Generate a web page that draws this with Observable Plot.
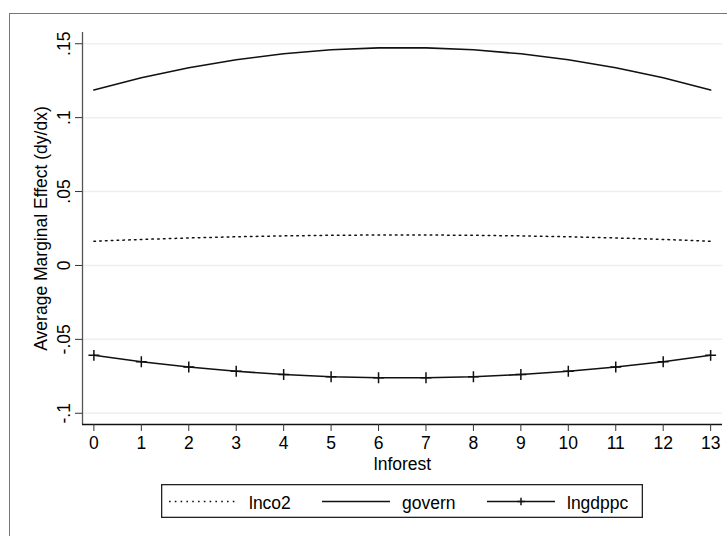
<!DOCTYPE html>
<html><head><meta charset="utf-8">
<script src="https://cdn.jsdelivr.net/npm/d3@7"></script>
<script src="https://cdn.jsdelivr.net/npm/@observablehq/plot@0.6"></script>
<style>
body{margin:0;background:#fff;font-family:"Liberation Sans",Arial,Helvetica,sans-serif;}
#wrap{position:relative;width:727px;height:536px;overflow:hidden;background:#fff;}
#frame{position:absolute;left:9px;top:13px;width:760px;height:560px;border:1.3px solid #777;box-sizing:border-box;}
#chart{position:absolute;left:0;top:0;}
#legend{position:absolute;left:161px;top:484px;}
</style></head><body>
<div id="wrap"><div id="frame"></div><div id="chart"></div><div id="legend"></div></div>
<script>
// Data
const lnforest = [0,1,2,3,4,5,6,7,8,9,10,11,12,13];
const lnco2   = [0.0164,0.0176,0.0186,0.0194,0.0200,0.0204,0.0206,0.0206,0.0204,0.0200,0.0194,0.0186,0.0176,0.0164];
const govern  = [0.1187,0.1270,0.1338,0.1392,0.1432,0.1459,0.1472,0.1472,0.1459,0.1432,0.1392,0.1338,0.1270,0.1187];
const lngdppc = [-0.0608,-0.0651,-0.0687,-0.0716,-0.0738,-0.0753,-0.0760,-0.0760,-0.0753,-0.0738,-0.0716,-0.0687,-0.0651,-0.0608];
const yTicks = [-0.1,-0.05,0,0.05,0.1,0.15];
const yTickLabels = ["-.1","-.05","0",".05",".1",".15"];
const xTicks = lnforest;
const seriesNames = ["lnco2","govern","lngdppc"];
const xDomain = [-0.24, 13.25];
const yDomain = [-0.1076, 0.1576];
const xTitle = "lnforest";
const yTitle = "Average Marginal Effect (dy/dx)";

const rows = lnforest.map((x,i)=>({x, lnco2: lnco2[i], govern: govern[i], lngdppc: lngdppc[i]}));
const FONT = '"Liberation Sans",Arial,Helvetica,sans-serif';

const plot = Plot.plot({
  width: 727, height: 536,
  marginLeft: 82, marginRight: 5, marginTop: 32, marginBottom: 112,
  style: {fontFamily: FONT, fontSize: "17.5px", background: "transparent", color: "#000", overflow: "visible"},
  x: {domain: xDomain},
  y: {domain: yDomain},
  marks: [
    Plot.ruleY(yTicks, {stroke: "#e9f1f2", strokeWidth: 1.5}),
    Plot.ruleX([xDomain[0]], {stroke: "#555", strokeWidth: 1.3}),
    Plot.ruleY([yDomain[0]], {stroke: "#111", strokeWidth: 1.3}),
    Plot.axisY({ticks: yTicks, tickFormat: d => yTickLabels[yTicks.indexOf(d)], tickRotate: -90, tickSize: 7, tickPadding: 6, label: null, stroke: "#333", fontSize: 17.5}),
    Plot.axisX({ticks: xTicks, tickFormat: d => String(d), tickSize: 7, tickPadding: 5, label: null, stroke: "#333", fontSize: 17.5}),
    Plot.text([xTitle], {text: d => d, frameAnchor: "bottom", lineAnchor: "top", dy: 33, fontSize: 17.5}),
    Plot.text([yTitle], {text: d => d, frameAnchor: "left", rotate: -90, lineAnchor: "middle", textAnchor: "middle", dx: -41, fontSize: 17.5}),
    Plot.line(rows, {x: "x", y: "lnco2", stroke: "#111", strokeWidth: 1.5, strokeDasharray: "1.6,4.2"}),
    Plot.line(rows, {x: "x", y: "govern", stroke: "#111", strokeWidth: 1.6}),
    Plot.line(rows, {x: "x", y: "lngdppc", stroke: "#111", strokeWidth: 1.6}),
    Plot.dot(rows, {x: "x", y: "lngdppc", symbol: "plus", r: 3.6, stroke: "#111", strokeWidth: 1.5})
  ]
});
document.getElementById("chart").appendChild(plot);

// Legend (below the plot area)
const lw = 482, lh = 34;
const leg = d3.select("#legend").append("svg").attr("width", lw).attr("height", lh)
  .style("font-family", FONT).style("font-size", "17.5px");
leg.append("rect").attr("x", 0.65).attr("y", 0.65).attr("width", lw - 1.3).attr("height", lh - 1.3)
  .attr("fill", "#fff").attr("stroke", "#222").attr("stroke-width", 1.3);
const items = [
  {name: seriesNames[0], x0: 8, x1: 74, tx: 88, dash: "1.6,4.2", marker: false},
  {name: seriesNames[1], x0: 161, x1: 229, tx: 241, dash: null, marker: false},
  {name: seriesNames[2], x0: 326, x1: 394, tx: 406, dash: null, marker: true}
];
const ly = 17.5;
items.forEach(it => {
  const l = leg.append("line").attr("x1", it.x0).attr("x2", it.x1).attr("y1", ly).attr("y2", ly)
    .attr("stroke", "#111").attr("stroke-width", 1.5);
  if (it.dash) l.attr("stroke-dasharray", it.dash);
  if (it.marker) {
    const cx = (it.x0 + it.x1) / 2;
    leg.append("path").attr("d", `M${cx-3.7},${ly}H${cx+3.7}M${cx},${ly-3.7}V${ly+3.7}`)
      .attr("stroke", "#111").attr("stroke-width", 1.5);
  }
  leg.append("text").attr("x", it.tx).attr("y", 24.5).text(it.name);
});
</script>
</body></html>
